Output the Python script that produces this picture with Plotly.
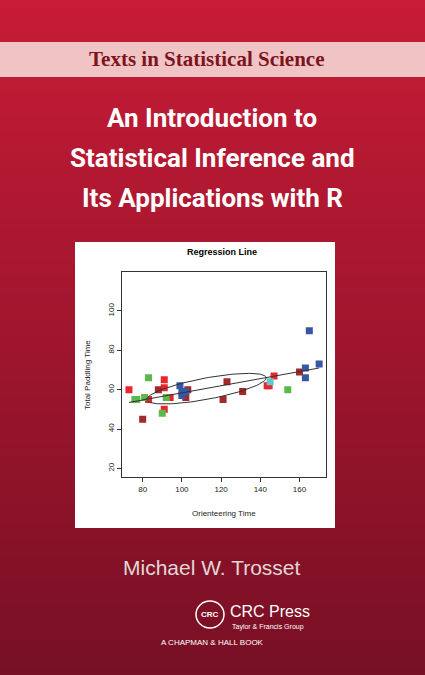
import math
import plotly.graph_objects as go

# scatter data (orienteering vs paddling time)
red_x = [73, 91, 91, 83, 94, 91, 143.5, 144.5, 147]
red_y = [60, 65, 61, 55, 56, 50, 62, 62, 67]
dark_x = [80, 88, 103, 102, 121, 123, 131, 160, 101]
dark_y = [45, 60, 60, 56, 55, 64, 59, 69, 58]
green_x = [76, 77, 81, 83, 90, 92, 154]
green_y = [55, 55, 56, 66, 48, 56, 60]
blue_x = [99, 100, 100, 102, 165, 163, 163, 170]
blue_y = [62, 57, 59, 59, 90, 71, 66, 73]
cyan_x = [145]
cyan_y = [64]

line_x = [73, 170]
line_y = [53.5, 71]

# ellipse: centre and half-axis vectors
ell_c = (112.5, 60.5)
ell_a = (30.5, 5.5)
ell_b = (0.0, 5.5)

x_ticks = [80, 100, 120, 140, 160]
y_ticks = [20, 40, 60, 80, 100]

W, H = 425, 675

def px(x):
    return x / W

def py(y):
    return 1 - y / H

fig = go.Figure()

# background gradient strips
shapes = []
n = 80
for i in range(n):
    t = i / (n - 1)
    r = int(200 - 80 * t)
    g = int(28 - 12 * t)
    b = int(55 - 18 * t)
    shapes.append(dict(type="rect", xref="paper", yref="paper", x0=0, x1=1,
                       y0=1 - (i + 1) / n, y1=1 - i / n + 0.001,
                       fillcolor=f"rgb({r},{g},{b})", line_width=0, layer="below"))
# pink series band
shapes.append(dict(type="rect", xref="paper", yref="paper", x0=0, x1=1,
                   y0=py(77), y1=py(42), fillcolor="rgb(240,196,196)",
                   line_width=0, layer="below"))
# white inset panel
shapes.append(dict(type="rect", xref="paper", yref="paper", x0=px(75), x1=px(335),
                   y0=py(528), y1=py(242), fillcolor="white", line_width=0, layer="below"))
# CRC logo circle
shapes.append(dict(type="circle", xref="paper", yref="paper", x0=px(196), x1=px(224),
                   y0=py(628), y1=py(601), line=dict(color="white", width=1.5),
                   fillcolor="rgba(0,0,0,0)"))

def sq(x, y, color):
    return go.Scatter(x=x, y=y, mode="markers", showlegend=False,
                      marker=dict(symbol="square", size=7, color=color,
                                  line=dict(width=0)))

fig.add_trace(sq(red_x, red_y, "#e8262b"))
fig.add_trace(sq(dark_x, dark_y, "#a3282a"))
fig.add_trace(sq(green_x, green_y, "#5cb84a"))
fig.add_trace(sq(blue_x, blue_y, "#3656a6"))
fig.add_trace(sq(cyan_x, cyan_y, "#62c9cc"))

fig.add_trace(go.Scatter(x=line_x, y=line_y, mode="lines", showlegend=False,
                         line=dict(color="#333", width=1)))

ts = [2 * math.pi * k / 120 for k in range(121)]
ex = [ell_c[0] + ell_a[0] * math.cos(t) + ell_b[0] * math.sin(t) for t in ts]
ey = [ell_c[1] + ell_a[1] * math.cos(t) + ell_b[1] * math.sin(t) for t in ts]
fig.add_trace(go.Scatter(x=ex, y=ey, mode="lines", showlegend=False,
                         line=dict(color="#333", width=1)))

ann = []
def text(x, y, s, size, color="white", family="Liberation Sans", xanchor="center", **kw):
    ann.append(dict(x=px(x), y=py(y), xref="paper", yref="paper", text=s,
                    showarrow=False, xanchor=xanchor, yanchor="middle",
                    font=dict(size=size, color=color, family=family), **kw))

text(206, 59, "<b>Texts in Statistical Science</b>", 21, "rgb(125,20,30)", "Liberation Serif")
text(212, 118, "<b>An Introduction to</b>", 26, family="Roboto")
text(212, 158, "<b>Statistical Inference and</b>", 26, family="Roboto")
text(212, 198, "<b>Its Applications with R</b>", 26, family="Roboto")
text(222, 252, "<b>Regression Line</b>", 9, "black")
text(87, 375, "Total Paddling Time", 8, "#222", textangle=-90)
text(224, 513, "Orienteering Time", 8, "#222")
text(212, 567, "Michael W. Trosset", 21, "rgb(225,215,215)")
text(210, 614, "<b>CRC</b>", 8)
text(228, 611, "CRC Press", 16, xanchor="left")
text(230, 627, "Taylor &amp; Francis Group", 7, xanchor="left")
text(212, 642, "A CHAPMAN &amp; HALL BOOK", 8)

fig.update_layout(
    width=W, height=H, margin=dict(l=0, r=0, t=0, b=0),
    paper_bgcolor="rgb(160,25,45)", plot_bgcolor="white",
    shapes=shapes, annotations=ann,
    xaxis=dict(domain=[px(121.7), px(326)], range=[69.3, 173.5], tickvals=x_ticks,
               showgrid=False, zeroline=False, showline=True, mirror=True,
               linecolor="#333", linewidth=1, ticks="outside", ticklen=4,
               tickcolor="#333", tickfont=dict(size=8, color="#222", family="Liberation Sans")),
    yaxis=dict(domain=[py(477), py(272)], range=[15.6, 119.8], tickvals=y_ticks,
               showgrid=False, zeroline=False, showline=True, mirror=True,
               linecolor="#333", linewidth=1, ticks="outside", ticklen=4,
               tickcolor="#333", tickangle=-90,
               tickfont=dict(size=8, color="#222", family="Liberation Sans")),
)

fig.write_html("out.html", config={"displayModeBar": False},
               post_script="document.body.style.margin='0';")
